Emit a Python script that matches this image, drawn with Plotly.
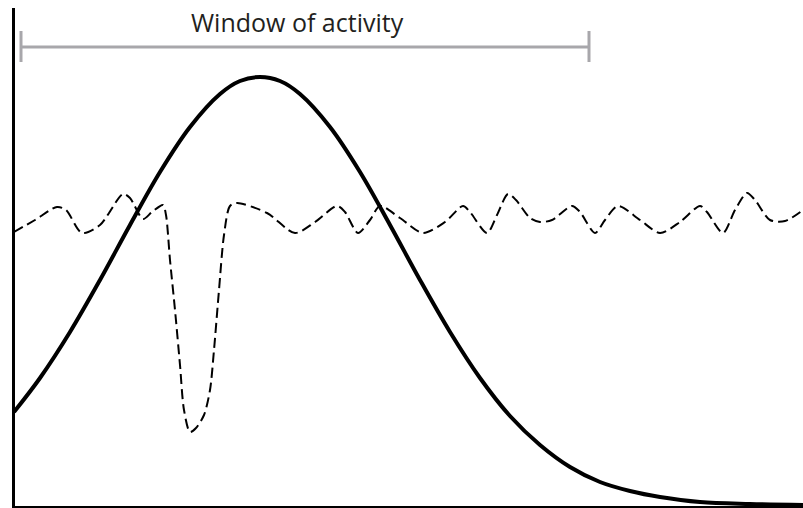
import plotly.graph_objects as go

# Bell curve (solid) — time vs. level
bell_x = [0, 26, 56, 86, 116, 146, 176, 206, 226, 246, 266, 286, 316, 346, 376,
          406, 436, 466, 496, 526, 556, 586, 616, 646, 686, 736, 789]
bell_y = [95, 129, 175, 227, 282, 335, 380, 413, 426, 430, 426, 413, 380, 335, 282,
          227, 175, 129, 91, 62, 40, 25, 16, 10, 5, 3, 2]

# Fluctuating signal (dashed)
sig_px = [14, 35, 57, 66, 82, 100, 123, 130, 143, 152, 163, 166, 170, 175, 180, 184,
          190, 196, 204, 210, 214, 219, 224, 230, 237, 267, 295, 315, 337, 345, 358,
          370, 380, 400, 423, 445, 463, 470, 487, 497, 508, 516, 530, 540, 552, 572,
          580, 595, 605, 618, 640, 660, 680, 700, 707, 723, 735, 747, 755, 770, 785, 803]
sig_py = [232, 220, 207, 210, 233, 225, 194, 198, 219, 212, 205, 215, 260, 310, 365, 410,
          432, 428, 415, 390, 350, 290, 235, 206, 203, 213, 233, 222, 206, 212, 233,
          220, 206, 218, 233, 222, 206, 212, 233, 215, 194, 200, 218, 222, 220, 206,
          212, 233, 220, 206, 220, 233, 222, 206, 212, 233, 210, 193, 200, 220, 221, 210]
sig_x = [p - 14 for p in sig_px]
sig_y = [507 - p for p in sig_py]

# Window of activity bracket
window_start = 7
window_end = 575
window_level = 460
window_label = "Window of activity"

fig = go.Figure()
fig.add_trace(go.Scatter(x=bell_x, y=bell_y, mode="lines",
                         line=dict(color="black", width=4, shape="spline", smoothing=1.0),
                         hoverinfo="skip"))
fig.add_trace(go.Scatter(x=sig_x, y=sig_y, mode="lines",
                         line=dict(color="black", width=2, shape="spline", smoothing=0.8,
                                   dash="10px,5px"),
                         hoverinfo="skip"))

gray = "#A8A7AB"
fig.add_shape(type="line", x0=window_start, x1=window_end, y0=window_level, y1=window_level,
              line=dict(color=gray, width=3))
for xv in (window_start, window_end):
    fig.add_shape(type="line", x0=xv, x1=xv, y0=window_level - 15, y1=window_level + 16,
                  line=dict(color=gray, width=3))

fig.add_annotation(x=283.5, y=485, text=window_label, borderpad=0,
                   showarrow=False, font=dict(family="Open Sans", size=25, color="#231F20"))

fig.update_layout(
    width=803, height=508,
    margin=dict(l=15, r=0, t=8, b=2),
    paper_bgcolor="white", plot_bgcolor="white",
    showlegend=False,
    xaxis=dict(range=[1, 789], showline=True, linecolor="black", linewidth=2,
               showgrid=False, zeroline=False, showticklabels=False, ticks=""),
    yaxis=dict(range=[1, 499], showline=True, linecolor="black", linewidth=3,
               showgrid=False, zeroline=False, showticklabels=False, ticks=""),
)

fig.write_html("out.html", config={"displayModeBar": False},
               post_script="document.body.style.margin='0px';document.body.style.padding='0px';")
